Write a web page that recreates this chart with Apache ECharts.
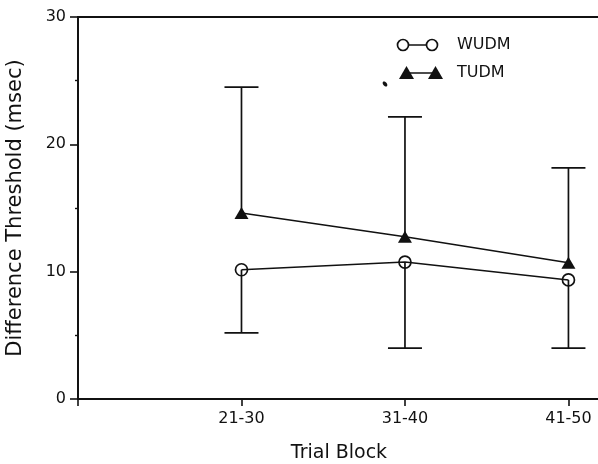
<!DOCTYPE html>
<html>
<head>
<meta charset="utf-8">
<script src="https://cdn.jsdelivr.net/npm/echarts@6/dist/echarts.min.js"></script>
<style>
  html, body { margin: 0; padding: 0; background: #fff; }
  #chart { width: 598px; height: 464px; }
</style>
</head>
<body>
<div id="chart"></div>
<script>
const categories = ['21-30', '31-40', '41-50']
const blockPos = [1, 2, 3]
const wudm = [10.15, 10.75, 9.35]
const tudm = [14.6, 12.75, 10.7]
const wudmLower = [5.2, 4.0, 4.0]
const tudmUpper = [24.5, 22.15, 18.15]
const yTicks = [0, 10, 20, 30]

const font = 'DejaVu Sans'
const ink = '#111'

const chart = echarts.init(document.getElementById('chart'))

// error bar rows: [x, mean, bound]
const errRows = blockPos.map((x, i) => [x, tudm[i], tudmUpper[i]])
  .concat(blockPos.map((x, i) => [x, wudm[i], wudmLower[i]]))

function renderErr(params, api) {
  const p0 = api.coord([api.value(0), api.value(1)])
  const p1 = api.coord([api.value(0), api.value(2)])
  const half = 17
  const style = { stroke: ink, lineWidth: 1.7 }
  return {
    type: 'group',
    children: [
      { type: 'line', shape: { x1: p0[0], y1: p0[1], x2: p1[0], y2: p1[1] }, style },
      { type: 'line', shape: { x1: p1[0] - half, y1: p1[1], x2: p1[0] + half, y2: p1[1] }, style }
    ]
  }
}

const option = {
  animation: false,
  backgroundColor: '#fff',
  grid: {
    left: 78, right: -2, top: 17, bottom: 65,
    outerBoundsMode: 'none',
    containLabel: false,
    show: true, borderColor: ink, borderWidth: 1.8, backgroundColor: 'transparent'
  },
  xAxis: {
    type: 'value',
    min: 0,
    max: 3.193,
    interval: 1,
    name: 'Trial Block',
    nameLocation: 'middle',
    nameGap: 45,
    nameTextStyle: { fontFamily: font, fontSize: 19, color: ink },
    axisLine: { show: true, lineStyle: { color: ink, width: 1.8 } },
    axisTick: { show: true, length: 7, lineStyle: { color: ink, width: 1.6 } },
    axisLabel: {
      margin: 12, fontFamily: font, fontSize: 16, color: ink,
      formatter: v => (v >= 1 && v <= 3) ? categories[v - 1] : ''
    },
    splitLine: { show: false }
  },
  yAxis: {
    type: 'value',
    min: yTicks[0],
    max: yTicks[yTicks.length - 1],
    interval: 10,
    name: 'Difference Threshold (msec)',
    nameLocation: 'middle',
    nameGap: 52,
    nameTextStyle: { fontFamily: font, fontSize: 21, color: ink },
    axisLine: { show: true, lineStyle: { color: ink, width: 1.8 } },
    axisTick: { show: true, length: 8, lineStyle: { color: ink, width: 1.6 } },
    minorTick: { show: true, splitNumber: 2, length: 3, lineStyle: { color: ink, width: 1.4 } },
    axisLabel: { margin: 12, fontFamily: font, fontSize: 16, color: ink },
    splitLine: { show: false },
    minorSplitLine: { show: false }
  },
  series: [
    {
      type: 'custom',
      name: 'err',
      renderItem: renderErr,
      data: errRows,
      z: 1,
      silent: true
    },
    {
      type: 'line',
      name: 'WUDM',
      data: blockPos.map((x, i) => [x, wudm[i]]),
      symbol: 'circle',
      symbolSize: 12,
      showAllSymbol: true,
      lineStyle: { color: ink, width: 1.5 },
      itemStyle: { color: 'rgba(0,0,0,0)', borderColor: ink, borderWidth: 1.7 },
      z: 3
    },
    {
      type: 'line',
      name: 'TUDM',
      data: blockPos.map((x, i) => [x, tudm[i]]),
      symbol: 'triangle',
      symbolSize: [14, 12],
      lineStyle: { color: ink, width: 1.5 },
      itemStyle: { color: ink },
      z: 3
    }
  ],
  graphic: [
    { type: 'line', shape: { x1: 409, y1: 45, x2: 426, y2: 45 }, style: { stroke: ink, lineWidth: 1.5 } },
    { type: 'circle', shape: { cx: 403, cy: 45, r: 5.5 }, style: { fill: 'none', stroke: ink, lineWidth: 1.7 } },
    { type: 'circle', shape: { cx: 432, cy: 45, r: 5.5 }, style: { fill: 'none', stroke: ink, lineWidth: 1.7 } },
    { type: 'text', x: 457, y: 45, style: { text: 'WUDM', fontFamily: font, fontSize: 16, fill: ink, verticalAlign: 'middle' } },
    { type: 'line', shape: { x1: 410, y1: 73, x2: 432, y2: 73 }, style: { stroke: ink, lineWidth: 1.5 } },
    { type: 'polygon', shape: { points: [[399, 79], [406.5, 66], [414, 79]] }, style: { fill: ink } },
    { type: 'polygon', shape: { points: [[428, 79], [435.5, 66], [443, 79]] }, style: { fill: ink } },
    { type: 'text', x: 457, y: 73, style: { text: 'TUDM', fontFamily: font, fontSize: 16, fill: ink, verticalAlign: 'middle' } },
    { type: 'ellipse', shape: { cx: 385, cy: 84, rx: 1.8, ry: 3 }, rotation: 0.7, originX: 385, originY: 84, style: { fill: ink } }
  ]
}

chart.setOption(option)
</script>
</body>
</html>
